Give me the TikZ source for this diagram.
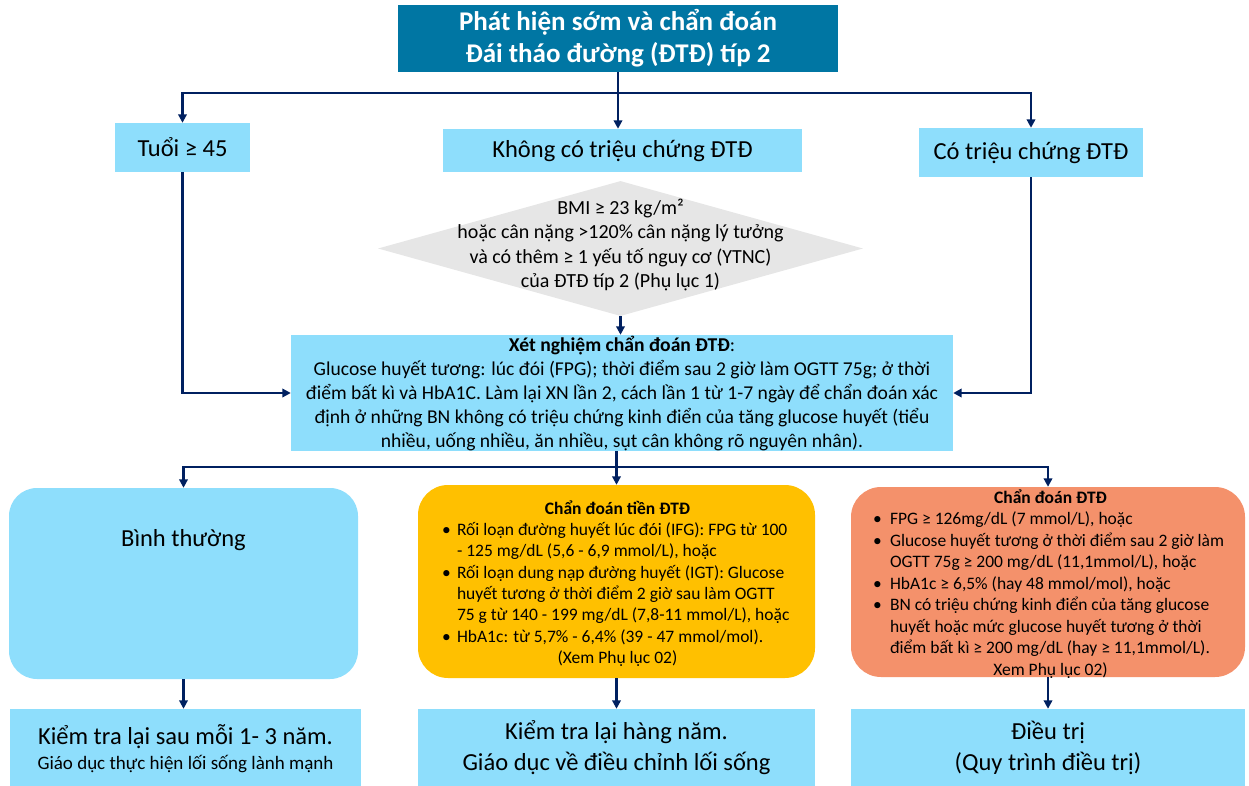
\documentclass[tikz,border=0pt]{standalone}
\usepackage{fontspec}
\setmainfont{Carlito}
\usetikzlibrary{arrows.meta,shapes.geometric}
\definecolor{cTitle}{RGB}{0,118,163}
\definecolor{cBlue}{RGB}{142,222,252}
\definecolor{cNavy}{RGB}{0,32,96}
\definecolor{cGrey}{RGB}{230,230,230}
\definecolor{cYellow}{RGB}{255,192,0}
\definecolor{cSalmon}{RGB}{244,145,107}
\newlength\mylw
\newlength\mybi
\newcommand\myitem[1]{\makebox[\mylw][l]{\makebox[\mybi][l]{\textbullet}#1}}
\newcommand\mycont[1]{\makebox[\mylw][l]{\hspace*{\mybi}#1}}
\tikzset{
  box/.style={fill=cBlue, inner sep=0pt, draw=none},
  arr/.style={draw=cNavy, line width=2.6pt, -{Triangle[width=8.5pt,length=8.5pt]}},
  big/.style={font=\fontsize{24.5}{30}\selectfont},
}
\begin{document}
\begin{tikzpicture}[x=1pt,y=-1pt]
\useasboundingbox (0,0) rectangle (1249,786);
% top
\node[fill=cTitle, minimum width=440pt, minimum height=67pt, inner sep=0pt, text=white,
  font=\bfseries\fontsize{27}{32}\selectfont, align=center] (title) at (618,38.5)
  {Phát hiện sớm và chẩn đoán\\Đái tháo đường (ĐTĐ) típ 2};
\node[box, big, minimum width=135pt, minimum height=49pt] (tuoi) at (182.5,147.5) {Tuổi ≥ 45};
\node[box, big, minimum width=359pt, minimum height=43pt] (khong) at (622.5,150.5) {Không có triệu chứng ĐTĐ};
\node[box, big, minimum width=224pt, minimum height=49pt] (co) at (1031,152.5) {Có triệu chứng ĐTĐ};
% diamond
\node[diamond, fill=cGrey, minimum width=485pt, minimum height=135pt, inner sep=0pt] (dia) at (620.5,248.5) {};
\node[font=\fontsize{20}{24.5}\selectfont, align=center, inner sep=0pt] (diatext) at (620.5,245)
  {BMI ≥ 23 kg/m²\\hoặc cân nặng >120\% cân nặng lý tưởng\\và có thêm ≥ 1 yếu tố nguy cơ (YTNC)\\của ĐTĐ típ 2 (Phụ lục 1)};
% test box
\node[box, minimum width=662pt, minimum height=116pt, font=\fontsize{19.6}{24}\selectfont, align=center] (xn) at (622,393)
  {\textbf{Xét nghiệm chẩn đoán ĐTĐ}:\\
   Glucose huyết tương: lúc đói (FPG); thời điểm sau 2 giờ làm OGTT 75g; ở thời\\
   điểm bất kì và HbA1C. Làm lại XN lần 2, cách lần 1 từ 1-7 ngày để chẩn đoán xác\\
   định ở những BN không có triệu chứng kinh điển của tăng glucose huyết (tiểu\\
   nhiều, uống nhiều, ăn nhiều, sụt cân không rõ nguyên nhân).};
% lower row
\node[box, rounded corners=28pt, minimum width=349pt, minimum height=191pt] (normal) at (183.5,583.5) {};
\node[big, inner sep=0pt] (normaltext) at (183.5,540) {Bình thường};
\node[fill=cYellow, rounded corners=30pt, inner sep=0pt, minimum width=397pt, minimum height=193pt] (yellow) at (616.5,581.5) {};
\setlength\mylw{351pt}\setlength\mybi{15pt}
\node[font=\fontsize{17.5}{21.3}\selectfont, align=center, inner sep=0pt] (ytext) at (617.5,583.5)
  {\textbf{Chẩn đoán tiền ĐTĐ}\\
   \myitem{Rối loạn đường huyết lúc đói (IFG): FPG từ 100}\\
   \mycont{- 125 mg/dL (5,6 - 6,9 mmol/L), hoặc}\\
   \myitem{Rối loạn dung nạp đường huyết (IGT): Glucose}\\
   \mycont{huyết tương ở thời điểm 2 giờ sau làm OGTT}\\
   \mycont{75 g từ 140 - 199 mg/dL (7,8-11 mmol/L), hoặc}\\
   \myitem{HbA1c: từ 5,7\% - 6,4\% (39 - 47 mmol/mol).}\\
   (Xem Phụ lục 02)};
\node[fill=cSalmon, rounded corners=30pt, inner sep=0pt, minimum width=394pt, minimum height=190pt] (orange) at (1048,582) {};
\setlength\mylw{355pt}\setlength\mybi{17pt}
\node[font=\fontsize{17.5}{21.5}\selectfont, align=center, inner sep=0pt] (otext) at (1050.5,584)
  {\textbf{Chẩn đoán ĐTĐ}\\
   \myitem{FPG ≥ 126mg/dL (7 mmol/L), hoặc}\\
   \myitem{Glucose huyết tương ở thời điểm sau 2 giờ làm}\\
   \mycont{OGTT 75g ≥ 200 mg/dL (11,1mmol/L), hoặc}\\
   \myitem{HbA1c ≥ 6,5\% (hay 48 mmol/mol), hoặc}\\
   \myitem{BN có triệu chứng kinh điển của tăng glucose}\\
   \mycont{huyết hoặc mức glucose huyết tương ở thời}\\
   \mycont{điểm bất kì ≥ 200 mg/dL (hay ≥ 11,1mmol/L).}\\
   Xem Phụ lục 02)};
% bottom row
\node[box, minimum width=351pt, minimum height=77pt] (bot1) at (185.5,747.5) {};
\node[font=\fontsize{24.5}{30}\selectfont, inner sep=0pt] (bot1a) at (185.5,737) {Kiểm tra lại sau mỗi 1- 3 năm.};
\node[font=\fontsize{19}{23}\selectfont, inner sep=0pt] (bot1b) at (185.5,764) {Giáo dục thực hiện lối sống lành mạnh};
\node[box, minimum width=397pt, minimum height=77pt, font=\fontsize{24.5}{31}\selectfont, align=center] (bot2) at (616.5,747.5)
  {Kiểm tra lại hàng năm.\\Giáo dục về điều chỉnh lối sống};
\node[box, minimum width=394pt, minimum height=77pt, font=\fontsize{24.5}{31}\selectfont, align=center] (bot3) at (1048,747.5)
  {Điều trị\\(Quy trình điều trị)};
% connectors
\coordinate (j1) at (618,93);
\draw[arr] (title.south) -- (title.south |- khong.north);
\draw[arr] (j1) -| (tuoi.north);
\draw[arr] (j1) -| (co.north);
\draw[arr] (tuoi.south) |- (xn.west);
\draw[arr] (co.south) |- (xn.east);
\draw[arr] (dia.south) -- (dia.south |- xn.north);
\coordinate (j2) at (617,467);
\draw[arr] (xn.south -| yellow.north) -- (yellow.north);
\draw[arr] (j2) -| (normal.north);
\draw[arr] (j2) -| (orange.north);
\draw[arr] (normal.south) -- (normal.south |- bot1.north);
\draw[arr] (yellow.south) -- (bot2.north);
\draw[arr] (orange.south) -- (orange.south |- bot3.north);
\end{tikzpicture}
\end{document}
